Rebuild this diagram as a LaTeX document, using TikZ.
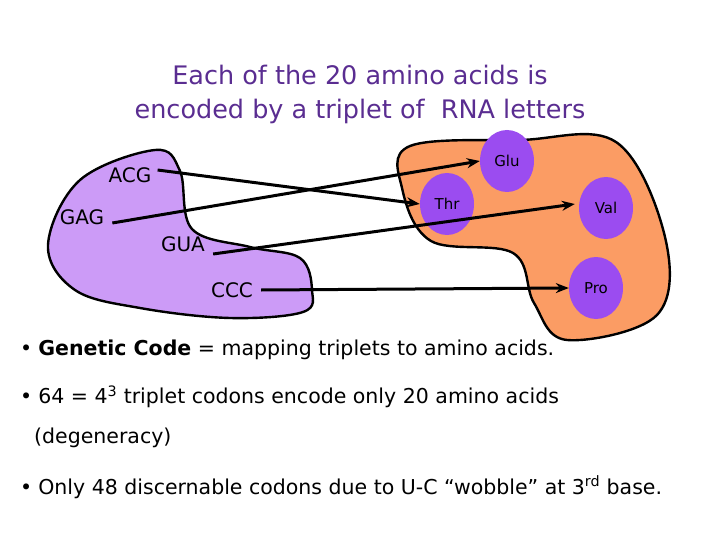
\documentclass[tikz,border=0pt]{standalone}
\usepackage{fontspec}
\setmainfont{DejaVu Sans}
\usetikzlibrary{shapes.geometric,arrows.meta}
\begin{document}
\begin{tikzpicture}[x=1pt,y=-1pt,
  lbl/.style={font=\fontsize{20}{22}\selectfont, inner sep=0pt},
  aa/.style={ellipse,fill=ptxt,minimum width=54pt,minimum height=62pt,inner sep=0pt,font=\fontsize{15}{17}\selectfont},
  arr/.style={line width=3pt,-{Stealth[length=13pt,width=10pt]}},
  bt/.style={anchor=west,inner sep=0pt,font=\fontsize{20.5}{23}\selectfont}]
\useasboundingbox (0,0) rectangle (720,540);
\definecolor{ptxt}{HTML}{9B4CF0}
\definecolor{ttl}{HTML}{5A2D91}
\definecolor{lav}{HTML}{CC9BF7}
\definecolor{org}{HTML}{FB9C64}
\node[font=\fontsize{25.5}{34}\selectfont,text=ttl,align=center] (title) at (360,94) {Each of the 20 amino acids is\\encoded by a triplet of \ RNA letters};
% purple blob
\draw[line width=2.4pt,fill=lav] plot[smooth cycle,tension=0.6] coordinates{
 (155,150) (180,171) (192,229) (250,247) (300,258) (312,290) (303,312) (230,318) (140,308) (75,290) (48,245) (80,180)};
% orange blob
\draw[line width=2.4pt,fill=org] plot[smooth cycle,tension=0.6] coordinates{
 (410,146) (520,140) (616,142) (665,237) (657,315) (567,340) (534,303) (513,253) (431,241) (402,188)};
\node[aa] (glu) at (507,161) {Glu};
\node[aa] (thr) at (447,204) {Thr};
\node[aa] (val) at (606,208) {Val};
\node[aa] (pro) at (596,288) {Pro};
\node[lbl] (acg) at (130,175) {ACG};
\node[lbl] (gag) at (82,217) {GAG};
\node[lbl] (gua) at (183,244) {GUA};
\node[lbl] (ccc) at (232,290) {CCC};
\draw[arr] ([xshift=6pt,yshift=5pt]acg.east) -- (thr.west);
\draw[arr] ([xshift=8pt,yshift=-6pt]gag.east) -- (glu.west);
\draw[arr] ([xshift=8pt,yshift=-10pt]gua.east) -- ([xshift=-4pt,yshift=4pt]val.west);
\draw[arr] ([xshift=8pt]ccc.east) -- (pro.west);
\node[bt] (b1) at (20,350) {•\hspace{6pt}\textbf{Genetic Code} = mapping triplets to amino acids.};
\node[bt] (b2) at (20,397) {•\hspace{6pt}64 = 4\textsuperscript{3} triplet codons encode only 20 amino acids};
\node[bt] (b3) at (34,438) {(degeneracy)};
\node[bt] (b4) at (20,487) {•\hspace{6pt}Only 48 discernable codons due to U-C “wobble” at 3\textsuperscript{rd} base.};
\end{tikzpicture}
\end{document}
